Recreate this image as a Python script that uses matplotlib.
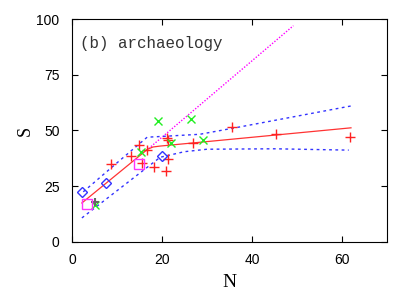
import numpy as np
import matplotlib
matplotlib.use('Agg')
import matplotlib.pyplot as plt

# red crosses
plus_N = [8.6, 13.2, 15.0, 16.6, 18.2, 21.0, 21.4, 21.1, 21.4, 27.0, 35.6, 45.3, 61.8, 15.5]
plus_S = [35.2, 38.6, 43.5, 41.3, 33.5, 31.9, 37.3, 46.8, 45.6, 44.4, 51.4, 48.4, 47.0, 35.3]
# green x
x_N = [15.3, 19.1, 22.1, 26.4, 29.1, 5.0]
x_S = [40.4, 54.3, 44.4, 55.2, 45.7, 16.5]
# blue diamonds
dia_N = [2.2, 7.6, 20.0]
dia_S = [22.4, 26.5, 38.6]
# magenta squares
sq_N = [3.3, 14.9]
sq_S = [17.0, 35.0]
# gray cross
gray_N = [5.2]
gray_S = [18.0]

# fitted curve and band
fit_N = [2.2, 16.8, 18.0, 19.5, 62.0]
fit_S = [17.5, 41.6, 42.6, 43.0, 51.2]
up_N = [2.5, 10.0, 16.7, 19.6, 28.4, 37.3, 62.0]
up_S = [22.5, 35.5, 47.0, 47.3, 48.3, 51.6, 61.0]
lo_N = [2.2, 10.0, 19.6, 25.0, 30.0, 45.0, 61.5]
lo_S = [10.8, 23.0, 38.0, 40.5, 41.6, 41.8, 41.2]
# magenta line
mag_N = [16.5, 49.2]
mag_S = [41.0, 97.0]

plt.rcParams['font.family'] = 'Liberation Sans'
fig = plt.figure(figsize=(4.15, 2.91), dpi=100)
ax = fig.add_axes([0.1735, 0.1684, 0.759, 0.7663])

ax.plot(mag_N, mag_S, color='#ff00ff', linestyle=(0, (1, 1.2)), linewidth=1.0)
ax.plot(up_N, up_S, color='#3333ff', linestyle=(0, (2, 2.5)), linewidth=1.0)
ax.plot(lo_N, lo_S, color='#3333ff', linestyle=(0, (2, 2.5)), linewidth=1.0)
ax.plot(fit_N, fit_S, color='#ff3333', linewidth=0.9)

ax.plot(plus_N, plus_S, '+', color='#ff2222', markersize=7, markeredgewidth=1.0)
ax.plot(x_N, x_S, 'x', color='#22ee22', markersize=6, markeredgewidth=1.0)
ax.plot(gray_N, gray_S, '+', color='#666666', markersize=6, markeredgewidth=1.5)
ax.plot(dia_N, dia_S, 'D', color='#3333ff', markerfacecolor='none', markersize=5, markeredgewidth=1.0)
ax.plot(sq_N, sq_S, 's', color='#ff33ff', markerfacecolor='none', markersize=7, markeredgewidth=1.0)

ax.set_xlim(0, 70)
ax.set_ylim(0, 100)
ax.set_xticks([0, 20, 40, 60])
ax.set_yticks([0, 25, 50, 75, 100])
ax.tick_params(direction='in', length=4, top=True, right=True, labelsize=10)
ax.tick_params(axis='x', pad=8)
ax.tick_params(axis='y', pad=9)
ax.set_xlabel('N', family='Liberation Serif', fontsize=14, labelpad=5)
ax.set_ylabel('S', family='Liberation Serif', fontsize=13, labelpad=2)
ax.text(0.025, 0.892, '(b) archaeology', transform=ax.transAxes, family='Liberation Mono',
        fontsize=11.4, va='center', ha='left', color='#333333')

fig.savefig('out.png', dpi=100)
